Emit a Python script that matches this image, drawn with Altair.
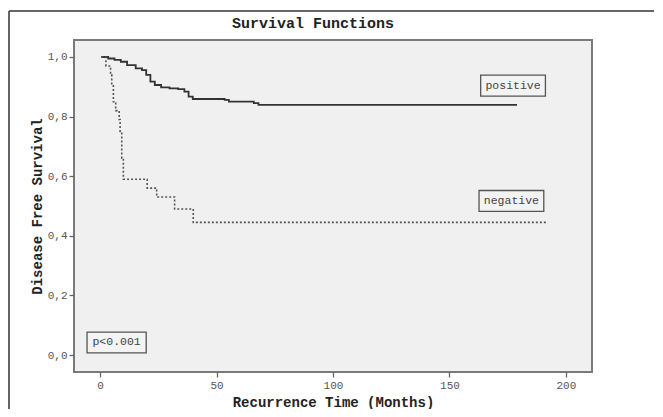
import altair as alt
import pandas as pd

# Kaplan-Meier step curves
pos_months = [0.5, 3.5, 6.2, 8.9, 11.6, 15.3, 18.0, 19.8, 21.6, 23.5, 26.2, 29.8, 33.5, 36.2, 38.0, 39.8, 53.5, 55.3, 66.0, 68.0, 179.0]
pos_surv = [1.0, 0.995, 0.99, 0.984, 0.973, 0.962, 0.956, 0.94, 0.917, 0.906, 0.898, 0.895, 0.892, 0.884, 0.867, 0.859, 0.856, 0.85, 0.845, 0.839, 0.839]

neg_months = [0.5, 2.5, 4.5, 5.0, 5.7, 6.7, 8.2, 8.6, 9.3, 10.0, 20.2, 24.3, 32.0, 40.0, 192.0]
neg_surv = [1.0, 0.97, 0.94, 0.91, 0.85, 0.82, 0.79, 0.75, 0.66, 0.59, 0.56, 0.53, 0.49, 0.445, 0.445]

# annotation boxes: text, centre month, centre survival, half-width (months)
ann_text = ["positive", "negative", "p<0.001"]
ann_x = [177.3, 176.6, 7.1]
ann_y = [0.904, 0.517, 0.042]
ann_hw = [13.9, 13.9, 12.7]
ann_hh = 0.035

x_ticks = [0, 50, 100, 150, 200]
y_ticks = [0.0, 0.2, 0.4, 0.6, 0.8, 1.0]

FONT = "Liberation Mono"

pos_df = pd.DataFrame({"t": pos_months, "s": pos_surv})
neg_df = pd.DataFrame({"t": neg_months, "s": neg_surv})
ann_df = pd.DataFrame({
    "label": ann_text,
    "x": ann_x, "y": ann_y,
    "x1": [a - w for a, w in zip(ann_x, ann_hw)],
    "x2": [a + w for a, w in zip(ann_x, ann_hw)],
    "y1": [b - ann_hh for b in ann_y],
    "y2": [b + ann_hh for b in ann_y],
})

xscale = alt.Scale(domain=[-11.2, 211.2], nice=False, zero=False)
yscale = alt.Scale(domain=[-0.057, 1.057], nice=False, zero=False)

xaxis = alt.Axis(values=x_ticks, title="Recurrence Time (Months)", format="d",
                 titlePadding=5)
yaxis = alt.Axis(values=y_ticks, title="Disease Free Survival",
                 labelExpr="replace(format(datum.value, '.1f'), '.', ',')",
                 titlePadding=3)

pos_line = alt.Chart(pos_df).mark_line(
    interpolate="step-after", color="#333333", strokeWidth=1.8
).encode(
    x=alt.X("t:Q", scale=xscale, axis=xaxis),
    y=alt.Y("s:Q", scale=yscale, axis=yaxis),
)

neg_line = alt.Chart(neg_df).mark_line(
    interpolate="step-after", color="#555555", strokeWidth=1.6, strokeDash=[2, 2]
).encode(
    x=alt.X("t:Q", scale=xscale),
    y=alt.Y("s:Q", scale=yscale),
)

boxes = alt.Chart(ann_df).mark_rect(
    fill="#f3f3f3", stroke="#555555", strokeWidth=1.3
).encode(
    x=alt.X("x1:Q", scale=xscale), x2="x2:Q",
    y=alt.Y("y1:Q", scale=yscale), y2="y2:Q",
)

texts = alt.Chart(ann_df).mark_text(
    font=FONT, fontSize=11.5, color="#444444", baseline="middle", align="center"
).encode(
    x=alt.X("x:Q", scale=xscale),
    y=alt.Y("y:Q", scale=yscale),
    text="label:N",
)

title = alt.Chart(pd.DataFrame({"t": ["Survival Functions"]})).mark_text(
    font=FONT, fontSize=15, fontWeight="bold", color="#222222",
    baseline="middle", align="center", clip=False
).encode(x=alt.value(239), y=alt.value(-17), text="t:N")

border_top = alt.Chart(pd.DataFrame({"a": [0]})).mark_rule(
    color="#333333", strokeWidth=1.5, clip=False
).encode(x=alt.value(-65), x2=alt.value(700), y=alt.value(-29))

border_left = alt.Chart(pd.DataFrame({"a": [0]})).mark_rule(
    color="#333333", strokeWidth=1.5, clip=False
).encode(x=alt.value(-65), y=alt.value(-29), y2=alt.value(400))

chart = alt.layer(
    border_top, border_left, title, pos_line, neg_line, boxes, texts
).properties(
    width=518, height=332,
    autosize=alt.AutoSizeParams(type="none"),
    padding={"left": 66, "top": 32, "right": 62, "bottom": 37},
).configure_view(
    fill="#f0f0f0", stroke="#7a7a7a", strokeWidth=2
).configure_axis(
    labelFont=FONT, labelFontSize=11, labelColor="#555555",
    titleFont=FONT, titleFontSize=14, titleFontWeight="bold", titleColor="#222222",
    tickColor="#666666", tickSize=5, tickWidth=1.3, domain=False, grid=False,
    labelPadding=2,
)

chart.save("out.html", embed_options={"renderer": "svg", "actions": False})
